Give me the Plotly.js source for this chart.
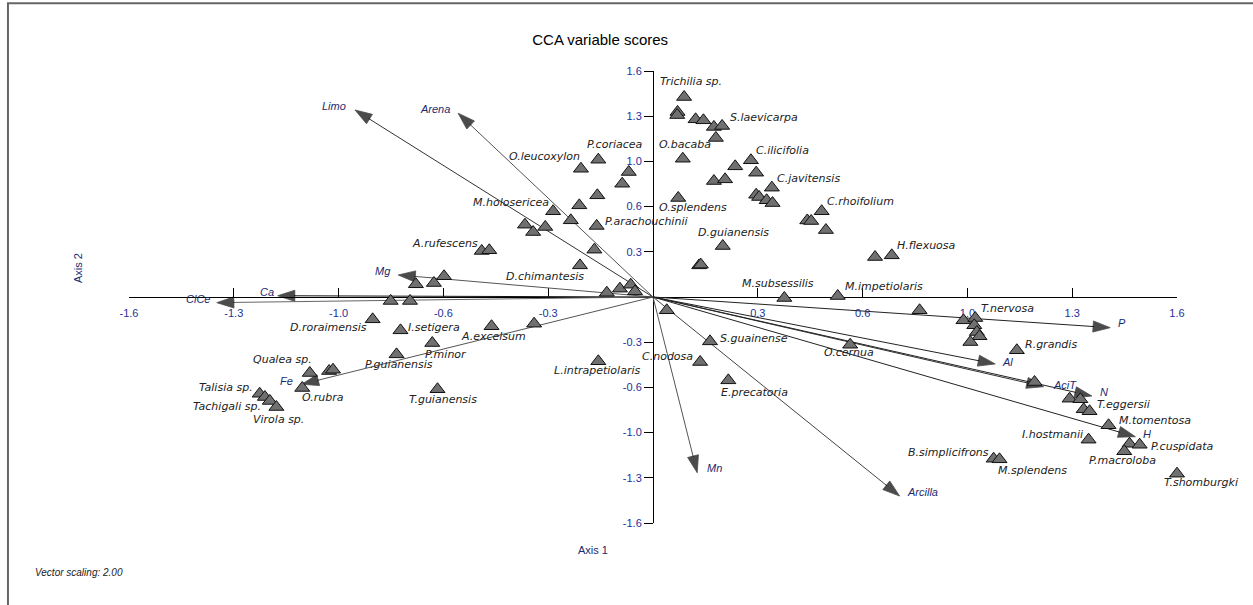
<!DOCTYPE html>
<html>
<head>
<meta charset="utf-8">
<script src="https://cdn.plot.ly/plotly-3.0.1.min.js"></script>
<style>html,body{margin:0;padding:0;background:#fff;}#chart{width:1253px;height:605px;}</style>
</head>
<body>
<div id="chart"></div>
<script>
// ---- species scores (Axis 1, Axis 2) ----
const spName = [
 'Trichilia sp.','','','','','','S.laevicarpa','','O.bacaba','P.coriacea','O.leucoxylon','','','','',
 'M.holosericea','','','P.arachouchinii','','D.chimantesis','','','','','O.splendens','D.guianensis','','',
 '','C.ilicifolia','','','','C.javitensis','','','','','C.rhoifolium','','','','M.subsessilis','M.impetiolaris',
 '','H.flexuosa','','',
 'A.rufescens','','','','','','','D.roraimensis','I.setigera','P.minor','P.guianensis','A.excelsum','',
 'T.guianensis','Qualea sp.','','','O.rubra','Talisia sp.','Tachigali sp.','','Virola sp.',
 '','S.guainense','C.nodosa','L.intrapetiolaris','E.precatoria',
 '','','T.nervosa','','','','','R.grandis','','','','','T.eggersii','M.tomentosa','I.hostmanii','',
 'P.cuspidata','P.macroloba','B.simplicifrons','M.splendens','T.shomburgki','O.cernua'
];
const spX = [
 0.095,0.075,0.074,0.130,0.154,0.186,0.211,0.192,0.091,-0.167,-0.220,-0.074,-0.094,-0.170,-0.225,
 -0.305,-0.251,-0.329,-0.172,-0.179,-0.223,-0.141,-0.101,-0.068,-0.055,0.077,0.213,0.141,0.146,
 0.251,0.299,0.315,0.186,0.220,0.363,0.315,0.324,0.347,0.365,0.515,0.471,0.483,0.528,0.401,0.564,
 0.678,0.729,-0.391,-0.366,
 -0.523,-0.500,-0.638,-0.669,-0.724,-0.801,-0.742,-0.856,-0.771,-0.674,-0.783,-0.493,-0.363,
 -0.658,-1.048,-0.989,-0.977,-1.071,-1.201,-1.185,-1.170,-1.150,
 0.042,0.174,0.144,-0.167,0.230,
 0.814,0.948,0.984,0.981,0.989,0.997,0.969,1.111,1.165,1.272,1.305,1.315,1.333,1.391,1.330,1.455,
 1.486,1.439,1.040,1.058,1.600,0.602
];
const spY = [
 1.416,1.310,1.288,1.258,1.251,1.204,1.211,1.126,0.979,0.972,0.908,0.885,0.802,0.720,0.649,
 0.607,0.543,0.496,0.503,0.335,0.224,0.030,0.059,0.087,0.040,0.701,0.361,0.224,0.229,
 0.925,0.968,0.880,0.821,0.833,0.774,0.724,0.708,0.685,0.665,0.607,0.542,0.538,0.474,-0.007,0.007,
 0.283,0.295,0.512,0.460,
 0.326,0.331,0.147,0.099,0.090,-0.028,-0.028,-0.158,-0.236,-0.326,-0.406,-0.207,-0.189,
 -0.653,-0.538,-0.524,-0.515,-0.644,-0.685,-0.708,-0.736,-0.779,
 -0.094,-0.314,-0.460,-0.455,-0.590,
 -0.094,-0.165,-0.149,-0.200,-0.248,-0.278,-0.319,-0.377,-0.602,-0.720,-0.724,-0.795,-0.809,-0.908,-1.010,-1.039,
 -1.046,-1.092,-1.145,-1.149,-1.251,-0.338
];

// ---- environmental variable vectors (arrow tips) ----
const vecName = ['Limo','Arena','Mg','Ca','ClCe','Fe','Mn','Arcilla','P','Al','AciT','N','H'];
const vecX = [-0.910,-0.595,-0.778,-1.146,-1.332,-1.073,0.135,0.753,1.396,1.045,1.193,1.340,1.473];
const vecY = [1.324,1.301,0.156,0.009,-0.040,-0.618,-1.244,-1.409,-0.217,-0.474,-0.635,-0.701,-0.989];

// ---- axis ticks ----
const tickVals = [-1.6,-1.28,-0.96,-0.64,-0.32,0.32,0.64,0.96,1.28,1.6];
const tickText = ['-1.6','-1.3','-1.0','-0.6','-0.3','0.3','0.6','1.0','1.3','1.6'];

// ---- label placement (anchor, pixel shift x, pixel shift y) ----
const spLabelPlace = {
 'Trichilia sp.':['left',-26,15],'S.laevicarpa':['left',6,8],'O.bacaba':['left',-26,14],
 'P.coriacea':['left',-13,15],'O.leucoxylon':['right',1,12],'C.ilicifolia':['left',3,10],
 'C.javitensis':['left',3,9],'M.holosericea':['right',-2,9],'O.splendens':['left',-21,-10],
 'P.arachouchinii':['left',6,4],'D.guianensis':['left',-27,14],'A.rufescens':['right',-2,7],
 'D.chimantesis':['right',6,-11],'M.subsessilis':['left',-44,14],'M.impetiolaris':['left',5,10],
 'C.rhoifolium':['left',3,10],'H.flexuosa':['left',3,10],'T.nervosa':['left',4,10],
 'R.grandis':['left',6,6],'T.eggersii':['left',5,7],'M.tomentosa':['left',8,5],
 'I.hostmanii':['right',-4,5],'P.cuspidata':['left',9,-2],'P.macroloba':['left',-37,-9],
 'T.shomburgki':['left',-15,-9],'B.simplicifrons':['right',-3,6],'M.splendens':['left',-4,-11],
 'O.cernua':['left',-28,-8],'S.guainense':['left',8,3],'C.nodosa':['right',-5,5],
 'E.precatoria':['left',-9,-12],'L.intrapetiolaris':['left',-46,-9],'D.roraimensis':['right',-4,-8],
 'I.setigera':['left',5,3],'A.excelsum':['left',-33,-10],'P.minor':['left',-9,-11],
 'P.guianensis':['left',-34,-10],'T.guianensis':['left',-31,-10],'Qualea sp.':['right',4,13],
 'O.rubra':['left',-2,-10],'Talisia sp.':['right',-5,6],'Tachigali sp.':['right',-2,-9],
 'Virola sp.':['left',-25,-12]
};
const vecLabelPlace = {
 'Limo':['right',-7,4],'Arena':['right',-6,4],'Mg':['right',-5,4],'Ca':['right',-2,4],
 'ClCe':['right',-5,4],'Fe':['right',-7,3],'Mn':['left',8,5],'Arcilla':['left',5,4],
 'P':['left',6,5],'Al':['left',5,2],'AciT':['left',7,2],'N':['left',6,4],'H':['left',6,3]
};
const vecLineColor = {
 'Limo':'#333','Arena':'#555','Mg':'#555','Ca':'#111','ClCe':'#666','Fe':'#555','Mn':'#555',
 'Arcilla':'#444','P':'#222','Al':'#222','AciT':'#333','N':'#222','H':'#222'
};

const traces = [];
vecName.forEach((n, i) => {
  traces.push({
    type: 'scatter', mode: 'lines+markers',
    x: [0, vecX[i]], y: [0, vecY[i]],
    line: {color: vecLineColor[n], width: 1},
    marker: {symbol: 'arrow', angleref: 'previous', size: [0, 18], color: '#000',
             line: {width: 0.8, color: '#000'}},
    cliponaxis: false, hoverinfo: 'skip', showlegend: false
  });
});
traces.push({
  type: 'scatter', mode: 'markers', x: spX, y: spY, text: spName,
  marker: {symbol: 'triangle-up', size: 13, color: '#707070', line: {color: '#111', width: 1}},
  cliponaxis: false, hoverinfo: 'text', showlegend: false
});

const annotations = [];
spName.forEach((n, i) => {
  if (!n) return;
  const p = spLabelPlace[n] || ['left', 5, 8];
  annotations.push({
    x: spX[i], y: spY[i], xref: 'x', yref: 'y', text: n, showarrow: false,
    xanchor: p[0], yanchor: 'middle', xshift: p[1], yshift: p[2],
    font: {family: 'DejaVu Sans', size: 11, color: '#222', style: 'italic'}
  });
});
vecName.forEach((n, i) => {
  const p = vecLabelPlace[n];
  annotations.push({
    x: vecX[i], y: vecY[i], xref: 'x', yref: 'y', text: n, showarrow: false,
    xanchor: p[0], yanchor: 'middle', xshift: p[1], yshift: p[2],
    font: {family: 'Liberation Sans', size: 11, color: '#1c2a70', style: 'italic'}
  });
});
// axis titles and note
annotations.push({xref: 'paper', yref: 'paper', x: 0.4427, y: -0.0597, text: 'Axis 1', showarrow: false,
  xanchor: 'center', yanchor: 'middle', font: {family: 'Liberation Sans', size: 11, color: '#1c2a70'}});
annotations.push({xref: 'paper', yref: 'paper', x: -0.0487, y: 0.564, text: 'Axis 2', showarrow: false,
  textangle: -90, xanchor: 'center', yanchor: 'middle', font: {family: 'Liberation Sans', size: 11, color: '#1c2a70'}});
annotations.push({xref: 'paper', yref: 'paper', x: -0.0916, y: -0.1106, text: 'Vector scaling: 2.00', showarrow: false,
  xanchor: 'left', yanchor: 'middle', font: {family: 'Liberation Sans', size: 10, color: '#222', style: 'italic'}});

const axisCommon = {
  range: [-1.6, 1.6], anchor: 'free', position: 0.5, showgrid: false, zeroline: false,
  showline: true, linecolor: '#000', linewidth: 1, tickcolor: '#000', tickwidth: 1, ticklen: 9,
  tickmode: 'array', tickvals: tickVals, ticktext: tickText, layer: 'below traces',
  tickfont: {family: 'Liberation Sans', size: 11, color: '#22329a'}, fixedrange: true
};

const layout = {
  width: 1253, height: 605,
  margin: {l: 129, r: 76, t: 71, b: 82, autoexpand: false},
  paper_bgcolor: '#fff', plot_bgcolor: '#fff',
  title: {text: 'CCA variable scores', x: 0.479, xanchor: 'center', y: 0.934, yanchor: 'middle',
          font: {family: 'Liberation Sans', size: 15, color: '#000'}},
  xaxis: Object.assign({}, axisCommon, {ticks: 'inside', side: 'bottom', ticklabelstandoff: 6}),
  yaxis: Object.assign({}, axisCommon, {ticks: 'outside', side: 'left'}),
  annotations: annotations,
  shapes: [{type: 'rect', xref: 'paper', yref: 'paper', x0: -0.1155, x1: 1.3, y0: -0.4, y1: 1.150,
            line: {color: '#666', width: 2}, fillcolor: 'rgba(0,0,0,0)'}],
  showlegend: false
};

Plotly.newPlot('chart', traces, layout, {staticPlot: true});
</script>
</body>
</html>
